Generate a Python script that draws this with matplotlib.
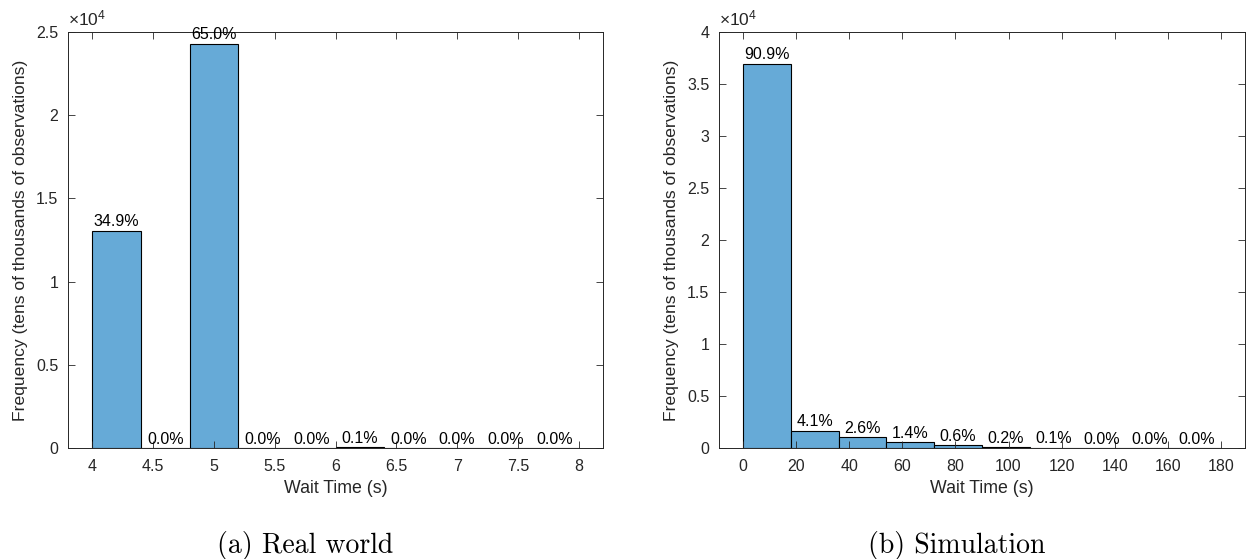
import matplotlib
matplotlib.use("Agg")
import matplotlib.pyplot as plt
from matplotlib.ticker import FuncFormatter, MultipleLocator
import numpy as np

# Histogram counts (bin edges + counts per bin)
real_edges = [4.0, 4.4, 4.8, 5.2, 5.6, 6.0, 6.4, 6.8, 7.2, 7.6, 8.0]
real_counts = [13060, 0, 24310, 0, 0, 40, 0, 0, 0, 0]

sim_edges = [0, 18, 36, 54, 72, 90, 108, 126, 144, 162, 180]
sim_counts = [36960, 1665, 1055, 570, 245, 85, 40, 15, 6, 3]

real_xticks = [4, 4.5, 5, 5.5, 6, 6.5, 7, 7.5, 8]
sim_xticks = [0, 20, 40, 60, 80, 100, 120, 140, 160, 180]

plt.rcParams["font.family"] = ["Liberation Sans", "DejaVu Sans"]
plt.rcParams["mathtext.fontset"] = "custom"
plt.rcParams["mathtext.rm"] = "Liberation Sans"

BAR_COLOR = "#66AAD7"
AX_COLOR = "#262626"

fig = plt.figure(figsize=(12.48, 5.59), dpi=100)
ax1 = fig.add_axes([0.0545, 0.1986, 0.4287, 0.744])
ax2 = fig.add_axes([0.5761, 0.1986, 0.4215, 0.744])


def draw_hist(ax, edges, counts, xlim, ymax, xticks):
    edges = np.array(edges, dtype=float)
    counts = np.array(counts, dtype=float)
    widths = np.diff(edges)
    ax.bar(edges[:-1], counts, width=widths, align="edge", color=BAR_COLOR,
           edgecolor="black", linewidth=0.8)
    total = counts.sum()
    for left, w, c in zip(edges[:-1], widths, counts):
        ax.text(left + w / 2, c + ymax * 0.003, f"{100 * c / total:.1f}%",
                ha="center", va="bottom", fontsize=11.5, color="black")
    ax.set_xlim(*xlim)
    ax.set_ylim(0, ymax)
    ax.set_xticks(xticks)
    ax.xaxis.set_major_formatter(FuncFormatter(lambda v, p: f"{v:g}"))
    ax.yaxis.set_major_locator(MultipleLocator(5000))
    ax.yaxis.set_major_formatter(FuncFormatter(lambda v, p: f"{v / 1e4:g}"))
    ax.tick_params(direction="in", top=True, right=True, length=5,
                   width=0.6, colors=AX_COLOR, labelsize=11.5)
    ax.tick_params(axis="x", pad=8)
    ax.tick_params(axis="y", pad=7)
    for s in ax.spines.values():
        s.set_color(AX_COLOR)
        s.set_linewidth(0.7)
    ax.set_xlabel("Wait Time (s)", fontsize=12.8, color=AX_COLOR, labelpad=4)
    ax.set_ylabel("Frequency (tens of thousands of observations)",
                  fontsize=12.6, color=AX_COLOR, labelpad=6)
    ax.text(0.0, 1.008, r"$\times\mathdefault{10^{4}}$", transform=ax.transAxes,
            ha="left", va="bottom", fontsize=12.5, color=AX_COLOR)


draw_hist(ax1, real_edges, real_counts, (3.8, 8.2), 25000, real_xticks)
draw_hist(ax2, sim_edges, sim_counts, (-9, 189), 40000, sim_xticks)

fig.text(0.2444, 0.0107, "(a) Real world", family="cmr10", fontsize=20,
         ha="center", va="baseline")
fig.text(0.7664, 0.0107, "(b) Simulation", family="cmr10", fontsize=20,
         ha="center", va="baseline")

fig.savefig("out.png", dpi=100)
